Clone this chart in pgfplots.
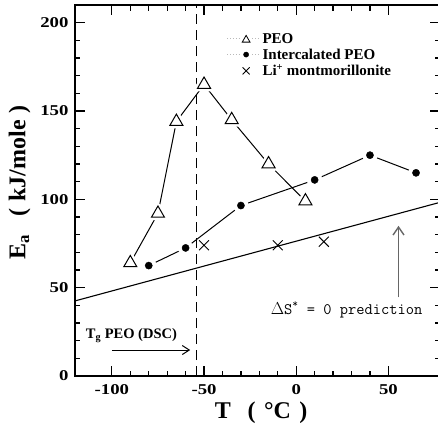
\documentclass[border=0pt]{standalone}
\usepackage{fontspec}
\setmainfont{Liberation Serif}
\usepackage{graphicx}
\usepackage{pgfplots}
\usepackage{pgfplotstable}
\pgfplotsset{compat=1.18}
\usetikzlibrary{arrows.meta}

% PEO (open triangles)
\pgfplotstableread{
T Ea
-90 64
-75 92
-65 144
-50 165
-35 145
-15 120
5 99
}\peo
% intercalated PEO (dots)
\pgfplotstableread{
T Ea
-80 62.5
-60 72.5
-30 96.5
10 111
40 125
65 115
}\ipeo
% Li+ montmorillonite (crosses)
\pgfplotstableread{
T Ea
-50 74
-10 74
15 76
}\limont

\begin{document}
\begin{tikzpicture}
\begin{axis}[
  name=ax,
  scale only axis, width=365pt, height=371pt,
  xmin=-120, xmax=78, ymin=0, ymax=210,
  xtick={-100,-50,0,50}, ytick={0,50,100,150,200},
  minor x tick num=4, minor y tick num=4,
  tick align=inside, major tick length=10pt, minor tick length=5.5pt,
  axis line style={line width=2.5pt},
  tick style={black, line width=1.2pt},
  ticklabel style={font=\bfseries\fontsize{15}{15}\selectfont},
  /pgf/number format/assume math mode=true,
  xticklabel={\scalebox{1.25}[1]{\axisdefaultticklabel}},
  yticklabel={\scalebox{1.25}[1]{\axisdefaultticklabel}},
  xticklabel style={yshift=-4.5pt},
  yticklabel style={xshift=-3pt},
  xlabel={T\hspace{0.7em}(\hspace{0.35em}°C\hspace{0.35em})},
  ylabel={E\textsubscript{a}\hspace{0.75em}(\hspace{0.3em}kJ/mole\hspace{0.3em})},
  label style={font=\bfseries\fontsize{24}{24}\selectfont},
  xlabel style={at={(axis description cs:0.51,-0.1)}, anchor=center},
  ylabel style={at={(axis description cs:-0.152,0.522)}, anchor=center},
  legend style={at={(axis description cs:0.415,0.93)}, anchor=north west,
    draw=none, fill=none, inner sep=0pt, row sep=0pt,
    font=\bfseries\fontsize{15}{16}\selectfont,
    cells={anchor=west}},
]

% connecting lines
\addplot[forget plot, black, line width=1pt] table[x=T, y=Ea]{\peo};
\addplot[forget plot, black, line width=1pt] table[x=T, y=Ea]{\ipeo};
% white masks so the lines stop short of the markers
\addplot[forget plot, only marks, mark=triangle*, mark size=7.5pt,
  mark options={draw=white, fill=white, line width=6pt, line join=round}]
  table[x=T, y=Ea]{\peo};
\addplot[forget plot, only marks, mark=*, mark size=7.5pt,
  mark options={draw=white, fill=white}] table[x=T, y=Ea]{\ipeo};

% Tg of PEO and the Delta S = 0 prediction
\addplot[forget plot, black, line width=1pt, dash pattern=on 10pt off 6pt]
  coordinates {(-54,0) (-54,210)};
\addplot[forget plot, black, line width=1.1pt]
  coordinates {(-120,42.5) (78,98.3)};

% markers
\addplot[only marks, mark=triangle*, mark size=7.5pt,
  mark options={draw=black, fill=white, line width=1pt},
  legend image code/.code={
    \draw[gray!55, dotted, line width=0.9pt] (0pt,0pt) -- (12pt,0pt);
    \draw[gray!55, dotted, line width=0.9pt] (25pt,0pt) -- (33pt,0pt);
    \draw[black, solid] plot[mark=triangle*, mark size=4.5pt,
      mark options={draw=black, fill=white, line width=0.8pt}] coordinates {(19pt,-1pt)};
  }] table[x=T, y=Ea]{\peo};
\addlegendentry{PEO}
\addplot[only marks, mark=*, mark size=3.6pt, black,
  legend image code/.code={
    \draw[gray!55, dotted, line width=0.9pt] (0pt,0pt) -- (12pt,0pt);
    \draw[gray!55, dotted, line width=0.9pt] (25pt,0pt) -- (33pt,0pt);
    \draw[black, solid] plot[mark=*, mark size=2.6pt] coordinates {(19pt,0pt)};
  }] table[x=T, y=Ea]{\ipeo};
\addlegendentry{Intercalated PEO}
\addplot[only marks, mark=x, mark size=7pt, black,
  mark options={line width=0.9pt},
  legend image code/.code={
    \draw[black, solid] plot[mark=x, mark size=5pt,
      mark options={line width=0.8pt}] coordinates {(19pt,0pt)};
  }] table[x=T, y=Ea]{\limont};
\addlegendentry{Li\textsuperscript{+} montmorillonite}

% annotations
\addplot[forget plot, black, line width=1pt, -{Straight Barb[length=7pt,width=9pt]}]
  coordinates {(-100,14.7) (-57.5,14.7)};
\node[anchor=west, font=\bfseries\fontsize{14.5}{14.5}\selectfont]
  at (axis cs:-116,23) {T\textsubscript{g} PEO (DSC)};
\addplot[forget plot, black!60, line width=1.4pt, -{Straight Barb[length=8pt,width=11pt]}]
  coordinates {(55.5,44.5) (55.5,85)};
\node[font=\ttfamily\fontsize{16}{16}\selectfont]
  at (axis cs:27.3,37.4) {$\Delta$S\textsuperscript{*} = 0 prediction};
\end{axis}
\pgfresetboundingbox
\path ([shift={(-75pt,-53pt)}]ax.south west) rectangle ([shift={(-2pt,5pt)}]ax.north east);
\end{tikzpicture}
\end{document}
